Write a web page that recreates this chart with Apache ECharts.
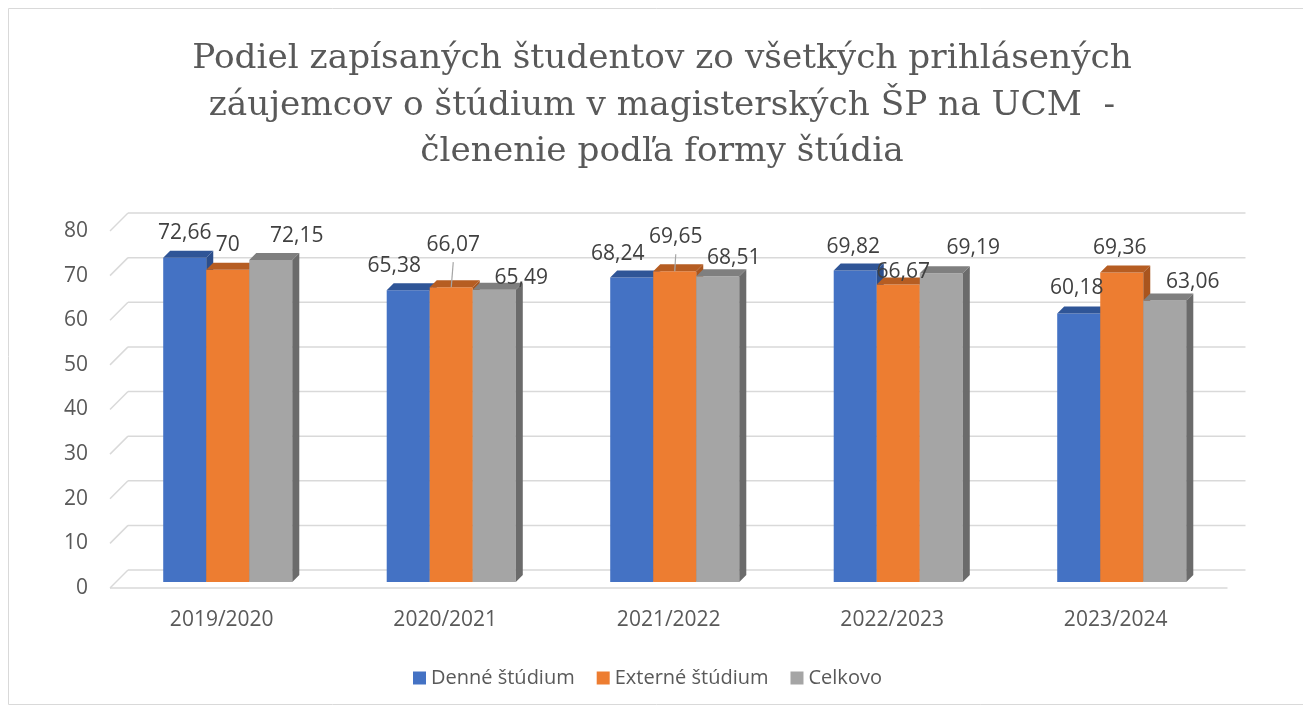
<!DOCTYPE html>
<html>
<head>
<meta charset="utf-8">
<script src="https://cdn.jsdelivr.net/npm/echarts@6/dist/echarts.min.js"></script>
<style>
  html, body { margin: 0; padding: 0; background: #fff; }
  #chart { width: 1303px; height: 710px; }
</style>
</head>
<body>
<div id="chart"></div>
<script>
const categories = ["2019/2020", "2020/2021", "2021/2022", "2022/2023", "2023/2024"];
const denneStudium = [72.66, 65.38, 68.24, 69.82, 60.18];
const externeStudium = [70, 66.07, 69.65, 66.67, 69.36];
const celkovo = [72.15, 65.49, 68.51, 69.19, 63.06];
const yTicks = [0, 10, 20, 30, 40, 50, 60, 70, 80];

// label nudges (px) relative to the bar's front top centre, as Excel placed them
const labelNudge = [
  [[0, -25], [-14, -24], [-14, -23.5], [-2, -23], [-2, -25]],
  [[0, -25], [2, -42, true], [1, -34, true], [5, -12.5], [-2, -24.5]],
  [[26, -24], [27, -12], [16, -18], [32, -25], [28, -19]]
];

const palette = [
  { front: "#4472C4", top: "#2F5597", side: "#2B4E8C" },
  { front: "#ED7D31", top: "#B65D22", side: "#A9551E" },
  { front: "#A5A5A5", top: "#7F7F7F", side: "#6B6B6B" }
];

const WALL = 18;   // depth of the back wall
const SHIFT = 6;   // bars sit this far behind the front edge
const DEPTH = 7;   // bar depth
const textFont = "Open Sans";

const fmt = (v) => String(v).replace(".", ",");

function wallItem(params, api) {
  const cs = params.coordSys;
  const y = api.coord([0, api.value(1)])[1];
  const x0 = cs.x;
  const x1 = cs.x + cs.width;
  const line = { stroke: "#D9D9D9", lineWidth: 1.5 };
  const children = [
    { type: "line", shape: { x1: x0, y1: y, x2: x0 + WALL, y2: y - WALL }, style: line },
    { type: "line", shape: { x1: x0 + WALL, y1: y - WALL, x2: x1 + WALL, y2: y - WALL }, style: line }
  ];
  if (api.value(1) === 0) {
    children.push({ type: "line", shape: { x1: x0, y1: y, x2: x1, y2: y }, style: line });
  }
  return { type: "group", children };
}

function barRenderer(k) {
  return function (params, api) {
    const idx = api.value(0);
    const v = api.value(1);
    const band = api.size([1, 0])[0];
    const w = band * 0.1925;
    const centre = api.coord([idx, 0])[0];
    const y0 = api.coord([idx, 0])[1] - SHIFT;
    const yTop = api.coord([idx, v])[1] - SHIFT;
    const x = centre - 1.5 * w + SHIFT + k * w;
    const c = palette[k];
    const d = DEPTH;
    const children = [
      { type: "rect", shape: { x: x, y: yTop, width: w, height: y0 - yTop }, style: { fill: c.front } },
      { type: "polygon", shape: { points: [[x, yTop], [x + w, yTop], [x + w + d, yTop - d], [x + d, yTop - d]] }, style: { fill: c.top } },
      { type: "polygon", shape: { points: [[x + w, yTop], [x + w + d, yTop - d], [x + w + d, y0 - d], [x + w, y0]] }, style: { fill: c.side } }
    ];
    const nudge = labelNudge[k][idx];
    const lx = x + w / 2 + nudge[0];
    const ly = yTop + nudge[1];
    if (nudge[2]) {
      children.push({ type: "line", z2: 5, shape: { x1: lx, y1: ly + 17, x2: x + w / 2, y2: yTop }, style: { stroke: "#A6A6A6", lineWidth: 1.2 } });
    }
    children.push({
      type: "text", z2: 10,
      style: { x: lx, y: ly, text: fmt(v), fill: "#404040", font: "21px '" + textFont + "'", align: "center", verticalAlign: "middle" }
    });
    return { type: "group", children };
  };
}

const chart = echarts.init(document.getElementById("chart"));

const seriesDefs = [
  { name: "Denné štúdium", values: denneStudium },
  { name: "Externé štúdium", values: externeStudium },
  { name: "Celkovo", values: celkovo }
];

chart.setOption({
  animation: false,
  graphic: [
    { type: "rect", shape: { x: 8.5, y: 8.5, width: 1310, height: 696 }, style: { fill: null, stroke: "#D9D9D9", lineWidth: 1 }, silent: true },
    {
      type: "text", x: 662, y: 36,
      style: {
        text: "Podiel zapísaných študentov zo všetkých prihlásených\nzáujemcov o štúdium v magisterských ŠP na UCM  -\nčlenenie podľa formy štúdia",
        font: "34.3px 'DejaVu Serif'", fill: "#595959", align: "center", verticalAlign: "top", lineHeight: 46.5
      }
    }
  ],
  legend: {
    left: 408,
    top: 663,
    icon: "rect",
    itemWidth: 13,
    itemHeight: 13,
    itemGap: 22,
    textStyle: { color: "#595959", fontSize: 20, fontFamily: textFont },
    data: seriesDefs.map((s) => s.name)
  },
  grid: { left: 110, right: 75.5, top: 231, bottom: 122 },
  xAxis: {
    type: "category",
    data: categories,
    axisLine: { show: false },
    axisTick: { show: false },
    splitLine: { show: false },
    axisLabel: { color: "#595959", fontSize: 21, fontFamily: textFont, margin: 22 }
  },
  yAxis: {
    type: "value",
    min: 0,
    max: 80,
    interval: 10,
    axisLine: { show: false },
    axisTick: { show: false },
    splitLine: { show: false },
    axisLabel: { color: "#595959", fontSize: 21, fontFamily: textFont, margin: 22 }
  },
  series: [
    {
      type: "custom",
      name: "wall",
      silent: true,
      renderItem: wallItem,
      encode: { x: 0, y: 1 },
      data: yTicks.map((t) => [0, t]),
      z: 1
    }
  ].concat(seriesDefs.map((s, k) => ({
    type: "custom",
    name: s.name,
    itemStyle: { color: palette[k].front },
    renderItem: barRenderer(k),
    encode: { x: 0, y: 1 },
    data: s.values.map((v, i) => [i, v]),
    z: 2
  })))
});
</script>
</body>
</html>
